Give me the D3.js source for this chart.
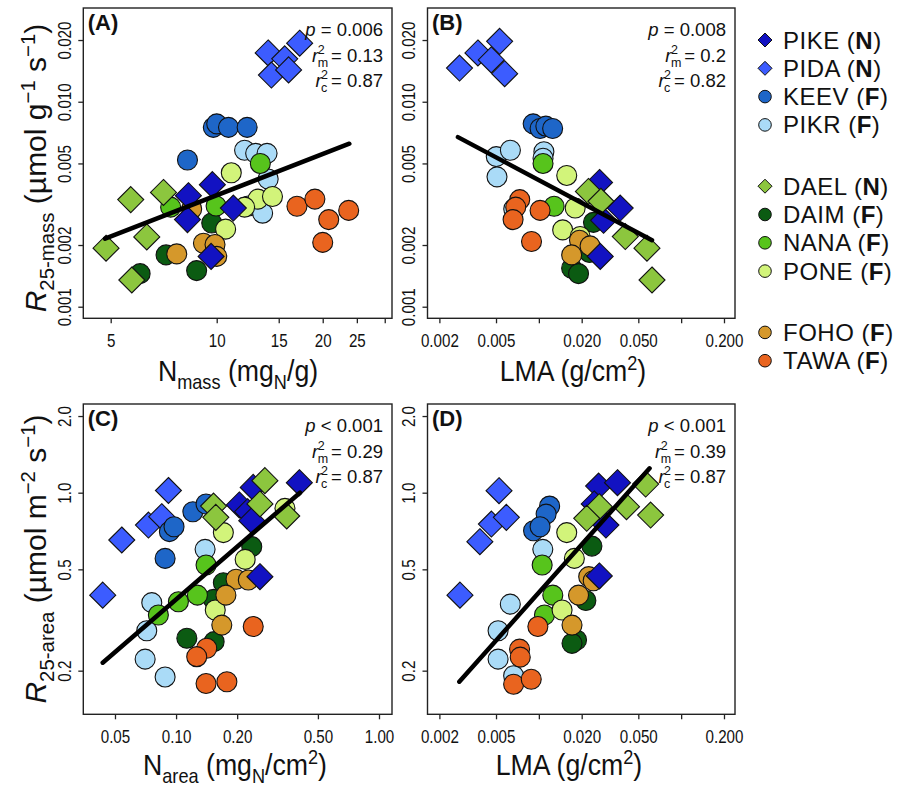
<!DOCTYPE html>
<html>
<head>
<meta charset="utf-8">
<script src="https://cdn.jsdelivr.net/npm/d3@7"></script>
<style>
  body { margin: 0; background: #fff; }
  svg text { font-family: "Liberation Sans", Arial, sans-serif; fill: #111; }
</style>
</head>
<body>
<svg id="chart" width="898" height="786"></svg>
<script>
// ---------------- species ----------------
const speciesNames = ["PIKE", "PIDA", "KEEV", "PIKR", "DAEL", "DAIM", "NANA", "PONE", "FOHO", "TAWA"];
const speciesType  = ["N", "N", "F", "F", "N", "F", "F", "F", "F", "F"];
const speciesGroup = [0, 0, 0, 0, 1, 1, 1, 1, 2, 2];
const speciesColor = ["#1212c2", "#3c5cff", "#1e66c8", "#aadbf7", "#8cc63e", "#0b5b12", "#57c41c", "#d2f47a", "#d5982b", "#e9641f"];
const speciesShape = ["diamond", "diamond", "circle", "circle", "diamond", "circle", "circle", "circle", "circle", "circle"];
const drawOrder    = ["PIDA", "KEEV", "PIKR", "DAIM", "NANA", "PONE", "FOHO", "TAWA", "PIKE", "DAEL"];

// ---------------- (A) N mass vs R25 mass ----------------
const nmassRmass = [
  ["PIDA", 17.2, 0.0193], ["PIDA", 14.0, 0.0173], ["PIDA", 15.6, 0.0162], ["PIDA", 14.3, 0.0135], ["PIDA", 16.0, 0.0143],
  ["KEEV", 9.78, 0.0075], ["KEEV", 10.0, 0.0078], ["KEEV", 10.8, 0.0075], ["KEEV", 12.2, 0.0075], ["KEEV", 8.26, 0.0052],
  ["PIKR", 12.0, 0.0058], ["PIKR", 12.9, 0.0056], ["PIKR", 13.9, 0.0056], ["PIKR", 14.0, 0.0042], ["PIKR", 12.3, 0.0031], ["PIKR", 13.5, 0.00286],
  ["DAIM", 9.68, 0.00256], ["DAIM", 7.18, 0.00179], ["DAIM", 6.06, 0.00145], ["DAIM", 8.77, 0.0015],
  ["NANA", 13.3, 0.005], ["NANA", 9.96, 0.0031], ["NANA", 7.4, 0.00306],
  ["PONE", 11.0, 0.0045], ["PONE", 13.1, 0.00335], ["PONE", 14.4, 0.00345], ["PONE", 12.0, 0.00306], ["PONE", 10.6, 0.00239],
  ["FOHO", 7.7, 0.00181], ["FOHO", 9.17, 0.00204], ["FOHO", 9.89, 0.00201], ["FOHO", 10.0, 0.00176], ["FOHO", 8.49, 0.003],
  ["TAWA", 16.9, 0.00309], ["TAWA", 19.0, 0.00335], ["TAWA", 20.8, 0.00266], ["TAWA", 23.7, 0.00295], ["TAWA", 20.0, 0.00206],
  ["PIKE", 9.72, 0.00394], ["PIKE", 8.31, 0.00348], ["PIKE", 11.15, 0.00303], ["PIKE", 8.26, 0.00266], ["PIKE", 9.64, 0.00176],
  ["DAEL", 5.7, 0.00333], ["DAEL", 7.06, 0.00361], ["DAEL", 6.33, 0.00219], ["DAEL", 4.85, 0.00193], ["DAEL", 5.74, 0.00135]
];
const nmassFit = [[4.82, 0.00215], [23.8, 0.00624]];

// ---------------- (B) LMA vs R25 mass ----------------
const lmaRmass = [
  ["PIDA", 0.00277, 0.0146], ["PIDA", 0.00373, 0.0173], ["PIDA", 0.0053, 0.0197], ["PIDA", 0.00463, 0.016], ["PIDA", 0.00575, 0.0137],
  ["KEEV", 0.00912, 0.0078], ["KEEV", 0.0102, 0.0074], ["KEEV", 0.0112, 0.0076], ["KEEV", 0.0125, 0.0074],
  ["PIKR", 0.00502, 0.0054], ["PIKR", 0.00631, 0.0058], ["PIKR", 0.00508, 0.0043], ["PIKR", 0.01085, 0.0057], ["PIKR", 0.0107, 0.0053], ["PIKR", 0.00666, 0.003],
  ["DAIM", 0.0242, 0.00258], ["DAIM", 0.0227, 0.00184], ["DAIM", 0.017, 0.00154], ["DAIM", 0.019, 0.00145],
  ["NANA", 0.0107, 0.005], ["NANA", 0.0128, 0.00309],
  ["PONE", 0.0157, 0.00437], ["PONE", 0.018, 0.00303], ["PONE", 0.0147, 0.00237], ["PONE", 0.0195, 0.0022],
  ["FOHO", 0.0193, 0.00211], ["FOHO", 0.017, 0.00179], ["FOHO", 0.0229, 0.00198],
  ["TAWA", 0.00734, 0.00333], ["TAWA", 0.00688, 0.00306], ["TAWA", 0.00659, 0.00266], ["TAWA", 0.0102, 0.00295], ["TAWA", 0.00888, 0.00208],
  ["PIKE", 0.0267, 0.00404], ["PIKE", 0.0373, 0.00303], ["PIKE", 0.0285, 0.00264], ["PIKE", 0.027, 0.00176],
  ["DAEL", 0.0223, 0.00365], ["DAEL", 0.0273, 0.00327], ["DAEL", 0.0405, 0.0022], ["DAEL", 0.0575, 0.00193], ["DAEL", 0.0624, 0.00135]
];
const lmaRmassFit = [[0.0027, 0.00672], [0.0624, 0.00211]];

// ---------------- (C) N area vs R25 area ----------------
const nareaRarea = [
  ["PIDA", 0.0917, 1.02], ["PIDA", 0.054, 0.652], ["PIDA", 0.0731, 0.746], ["PIDA", 0.085, 0.805], ["PIDA", 0.0435, 0.396],
  ["KEEV", 0.121, 0.842], ["KEEV", 0.1405, 0.903], ["KEEV", 0.0927, 0.703], ["KEEV", 0.0977, 0.735], ["KEEV", 0.0883, 0.552],
  ["PIKR", 0.139, 0.599], ["PIKR", 0.0759, 0.37], ["PIKR", 0.0717, 0.287], ["PIKR", 0.0704, 0.222], ["PIKR", 0.0883, 0.189],
  ["DAIM", 0.236, 0.614], ["DAIM", 0.171, 0.443], ["DAIM", 0.153, 0.381], ["DAIM", 0.113, 0.268], ["DAIM", 0.154, 0.26],
  ["NANA", 0.1405, 0.52], ["NANA", 0.1027, 0.373], ["NANA", 0.1274, 0.396], ["NANA", 0.0818, 0.331],
  ["PONE", 0.344, 0.868], ["PONE", 0.171, 0.697], ["PONE", 0.219, 0.547], ["PONE", 0.156, 0.346],
  ["FOHO", 0.1975, 0.457], ["FOHO", 0.176, 0.396], ["FOHO", 0.168, 0.302], ["FOHO", 0.227, 0.454],
  ["TAWA", 0.24, 0.298], ["TAWA", 0.1416, 0.245], ["TAWA", 0.1264, 0.227], ["TAWA", 0.1405, 0.178], ["TAWA", 0.178, 0.181],
  ["PIKE", 0.405, 1.095], ["PIKE", 0.205, 0.895], ["PIKE", 0.225, 0.842], ["PIKE", 0.236, 0.776], ["PIKE", 0.259, 0.468], ["PIKE", 0.24, 1.049],
  ["DAEL", 0.274, 1.115], ["DAEL", 0.153, 0.886], ["DAEL", 0.157, 0.8], ["DAEL", 0.259, 0.903], ["DAEL", 0.351, 0.81]
];
const nareaFit = [[0.0435, 0.215], [0.408, 1.0]];

// ---------------- (D) LMA vs R25 area ----------------
const lmaRarea = [
  ["PIDA", 0.00525, 1.018], ["PIDA", 0.00279, 0.396], ["PIDA", 0.00385, 0.642], ["PIDA", 0.00464, 0.753], ["PIDA", 0.00591, 0.8],
  ["KEEV", 0.0119, 0.886], ["KEEV", 0.01125, 0.824], ["KEEV", 0.00918, 0.709], ["KEEV", 0.0102, 0.735],
  ["PIKR", 0.01066, 0.599], ["PIKR", 0.0063, 0.365], ["PIKR", 0.00517, 0.287], ["PIKR", 0.00517, 0.222], ["PIKR", 0.00665, 0.191],
  ["DAIM", 0.0236, 0.617], ["DAIM", 0.0214, 0.377], ["DAIM", 0.0184, 0.264], ["DAIM", 0.0171, 0.256],
  ["NANA", 0.01055, 0.52], ["NANA", 0.01253, 0.396], ["NANA", 0.01095, 0.331],
  ["PONE", 0.0157, 0.697], ["PONE", 0.01776, 0.552], ["PONE", 0.01456, 0.346],
  ["FOHO", 0.0224, 0.468], ["FOHO", 0.019, 0.396], ["FOHO", 0.0171, 0.302], ["FOHO", 0.0241, 0.451],
  ["TAWA", 0.00984, 0.298], ["TAWA", 0.00732, 0.243], ["TAWA", 0.0074, 0.226], ["TAWA", 0.00665, 0.177], ["TAWA", 0.00884, 0.185],
  ["PIKE", 0.0263, 1.062], ["PIKE", 0.0357, 1.095], ["PIKE", 0.0296, 0.746], ["PIKE", 0.0266, 0.471], ["PIKE", 0.0245, 0.903],
  ["DAEL", 0.0563, 1.081], ["DAEL", 0.0266, 0.881], ["DAEL", 0.0413, 0.881], ["DAEL", 0.061, 0.817], ["DAEL", 0.0217, 0.793]
];
const lmaRareaFit = [[0.00276, 0.181], [0.06, 1.246]];

// ---------------- axis ticks ----------------
const nmassTicks = [5, 10, 15, 20, 25, 30];
const nmassTickLabels = ["5", "10", "15", "20", "25", ""];
const lmaTicks = [0.002, 0.005, 0.01, 0.02, 0.05, 0.1, 0.2];
const lmaTickLabels = ["0.002", "0.005", "", "0.020", "0.050", "", "0.200"];
const nareaTicks = [0.05, 0.1, 0.2, 0.5, 1.0];
const nareaTickLabels = ["0.05", "0.10", "0.20", "0.50", "1.00"];
const rmassTicks = [0.001, 0.002, 0.005, 0.01, 0.02];
const rmassTickLabels = ["0.001", "0.002", "0.005", "0.010", "0.020"];
const rareaTicks = [0.2, 0.5, 1.0, 2.0];
const rareaTickLabels = ["0.2", "0.5", "1.0", "2.0"];

// ---------------- model statistics ----------------
const panelLetters = ["(A)", "(B)", "(C)", "(D)"];
const pValues = ["= 0.006", "= 0.008", "< 0.001", "< 0.001"];
const r2Marginal = ["0.13", "0.2", "0.29", "0.39"];
const r2Conditional = ["0.87", "0.82", "0.87", "0.87"];

// ---------------- layout ----------------
const svg = d3.select("#chart");
const colLeft = [83.3, 427.5], colRight = [392, 735];
const rowTop = [8, 404], rowBottom = [318.3, 714.3];
const condense = 0.82;      // horizontal squeeze for the narrow axis lettering
const titleCondense = 0.89;

const panels = [
  { pts: nmassRmass, fit: nmassFit, col: 0, row: 0, xDom: [4.18, 31.46], yDom: [0.000878, 0.02866],
    xT: nmassTicks, xL: nmassTickLabels, yT: rmassTicks, yL: rmassTickLabels },
  { pts: lmaRmass, fit: lmaRmassFit, col: 1, row: 0, xDom: [0.00165, 0.239], yDom: [0.000878, 0.02866],
    xT: lmaTicks, xL: lmaTickLabels, yT: rmassTicks, yL: rmassTickLabels },
  { pts: nareaRarea, fit: nareaFit, col: 0, row: 1, xDom: [0.0349, 1.159], yDom: [0.1348, 2.23],
    xT: nareaTicks, xL: nareaTickLabels, yT: rareaTicks, yL: rareaTickLabels },
  { pts: lmaRarea, fit: lmaRareaFit, col: 1, row: 1, xDom: [0.00165, 0.239], yDom: [0.1348, 2.23],
    xT: lmaTicks, xL: lmaTickLabels, yT: rareaTicks, yL: rareaTickLabels }
];

const colorOf = s => speciesColor[speciesNames.indexOf(s)];
const shapeOf = s => speciesShape[speciesNames.indexOf(s)];
const diamond = r => `M0,${-r}L${r},0L0,${r}L${-r},0Z`;

// text with sub/superscript runs
function rich(text, parts, size) {
  let shift = 0;
  parts.forEach(p => {
    const target = p.sub ? size * 0.25 : p.sup ? -size * 0.38 : 0;
    const ts = text.append("tspan").text(p.t).attr("dy", target - shift);
    shift = target;
    if (p.sub || p.sup) ts.attr("font-size", size * 0.68);
    if (p.it) ts.attr("font-style", "italic");
    if (p.b) ts.attr("font-weight", "bold");
  });
  return text;
}

panels.forEach((P, i) => {
  const x0 = colLeft[P.col], x1 = colRight[P.col], y0 = rowTop[P.row], y1 = rowBottom[P.row];
  const x = d3.scaleLog().domain(P.xDom).range([x0, x1]);
  const y = d3.scaleLog().domain(P.yDom).range([y1, y0]);
  const g = svg.append("g");

  // axes
  const xa = g.append("g").attr("transform", `translate(0,${y1})`)
    .call(d3.axisBottom(x).tickValues(P.xT).tickFormat((d, k) => P.xL[k]).tickSize(5));
  xa.select(".domain").remove();
  xa.selectAll("line").attr("stroke", "#222").attr("stroke-width", 1.3);
  xa.selectAll("text").attr("font-size", 18.5).attr("fill", "#111")
    .attr("y", 28.5).attr("dy", 0).attr("transform", `scale(${condense},1)`);

  const ya = g.append("g").attr("transform", `translate(${x0},0)`)
    .call(d3.axisLeft(y).tickValues(P.yT).tickFormat((d, k) => P.yL[k]).tickSize(5));
  ya.select(".domain").remove();
  ya.selectAll("line").attr("stroke", "#222").attr("stroke-width", 1.3);
  ya.selectAll("text").attr("font-size", 18.5).attr("fill", "#111")
    .attr("x", null).attr("dy", 0).attr("text-anchor", "middle")
    .attr("transform", `translate(-12.5,0) rotate(-90) scale(${condense},1)`);

  // points
  const ordered = P.pts.slice().sort((a, b) => drawOrder.indexOf(a[0]) - drawOrder.indexOf(b[0]));
  const pg = g.append("g");
  ordered.forEach(d => {
    const cx = x(d[1]), cy = y(d[2]);
    if (shapeOf(d[0]) === "diamond") {
      pg.append("path").attr("d", diamond(13)).attr("transform", `translate(${cx},${cy})`)
        .attr("fill", colorOf(d[0])).attr("stroke", "#111").attr("stroke-width", 1.1);
    } else {
      pg.append("circle").attr("cx", cx).attr("cy", cy).attr("r", 10)
        .attr("fill", colorOf(d[0])).attr("stroke", "#111").attr("stroke-width", 1.1);
    }
  });

  // fitted line
  g.append("path").datum(P.fit)
    .attr("d", d3.line().x(d => x(d[0])).y(d => y(d[1])))
    .attr("stroke", "#000").attr("stroke-width", 4.5).attr("fill", "none").attr("stroke-linecap", "round");

  // frame
  g.append("rect").attr("x", x0).attr("y", y0).attr("width", x1 - x0).attr("height", y1 - y0)
    .attr("fill", "none").attr("stroke", "#222").attr("stroke-width", 1.4);

  // panel letter
  g.append("text").attr("x", x0 + 4.5).attr("y", y0 + 21.5).attr("font-size", 22).attr("font-weight", "bold")
    .text(panelLetters[i]);

  // statistics
  const xr = x1 - 9, fs = 18.5;
  const pt = g.append("text").attr("x", xr).attr("y", y0 + 28).attr("text-anchor", "end").attr("font-size", fs);
  pt.append("tspan").attr("font-style", "italic").text("p");
  pt.append("tspan").text(" " + pValues[i]);
  [["m", r2Marginal[i]], ["c", r2Conditional[i]]].forEach((r, k) => {
    const by = y0 + 54 + k * 24.5;
    const val = g.append("text").attr("x", xr).attr("y", by).attr("text-anchor", "end").attr("font-size", fs)
      .text("= " + r[1]);
    const w = val.node().getComputedTextLength();
    const sub = g.append("text").attr("y", by + 5).attr("font-size", 12.5).text(r[0]);
    const sup = g.append("text").attr("y", by - 8).attr("font-size", 12.5).text("2");
    const sw = Math.max(sub.node().getComputedTextLength(), sup.node().getComputedTextLength());
    const xs = xr - w - 3 - sw;
    sub.attr("x", xs); sup.attr("x", xs);
    g.append("text").attr("x", xs + 0.5).attr("y", by).attr("text-anchor", "end").attr("font-size", fs)
      .attr("font-style", "italic").text("r");
  });
});

// axis titles
const tfs = 30;
function xTitle(cx, by, parts) {
  rich(svg.append("text").attr("transform", `translate(${cx},${by}) scale(${titleCondense},1)`)
    .attr("text-anchor", "middle").attr("font-size", tfs), parts, tfs);
}
xTitle(238, 381, [{ t: "N" }, { t: "mass", sub: true }, { t: " (mg" }, { t: "N", sub: true }, { t: "/g)" }]);
xTitle(573, 381, [{ t: "LMA (g/cm" }, { t: "2", sup: true }, { t: ")" }]);
xTitle(235, 775, [{ t: "N" }, { t: "area", sub: true }, { t: " (mg" }, { t: "N", sub: true }, { t: "/cm" }, { t: "2", sup: true }, { t: ")" }]);
xTitle(569, 775, [{ t: "LMA (g/cm" }, { t: "2", sup: true }, { t: ")" }]);
rich(svg.append("text").attr("transform", "translate(46,168) rotate(-90)").attr("text-anchor", "middle").attr("font-size", tfs),
  [{ t: "R", it: true }, { t: "25-mass", sub: true }, { t: " (µmol g" }, { t: "−1", sup: true }, { t: " s" }, { t: "−1", sup: true }, { t: ")" }], tfs);
rich(svg.append("text").attr("transform", "translate(46,559) rotate(-90)").attr("text-anchor", "middle").attr("font-size", tfs),
  [{ t: "R", it: true }, { t: "25-area", sub: true }, { t: " (µmol m" }, { t: "−2", sup: true }, { t: " s" }, { t: "−1", sup: true }, { t: ")" }], tfs);

// legend
const lg = svg.append("g");
speciesNames.forEach((s, i) => {
  const ly = 40 + i * 28.3 + speciesGroup[i] * 33;
  if (speciesShape[i] === "diamond") {
    lg.append("path").attr("d", diamond(7)).attr("transform", `translate(765,${ly})`)
      .attr("fill", speciesColor[i]).attr("stroke", "#111").attr("stroke-width", 1);
  } else {
    lg.append("circle").attr("cx", 765).attr("cy", ly).attr("r", 6.3)
      .attr("fill", speciesColor[i]).attr("stroke", "#111").attr("stroke-width", 1);
  }
  const t = lg.append("text").attr("x", 783).attr("y", ly + 8.5).attr("font-size", 24).attr("letter-spacing", 0.5);
  t.append("tspan").text(s + " (");
  t.append("tspan").attr("font-weight", "bold").text(speciesType[i]);
  t.append("tspan").text(")");
});
</script>
</body>
</html>
